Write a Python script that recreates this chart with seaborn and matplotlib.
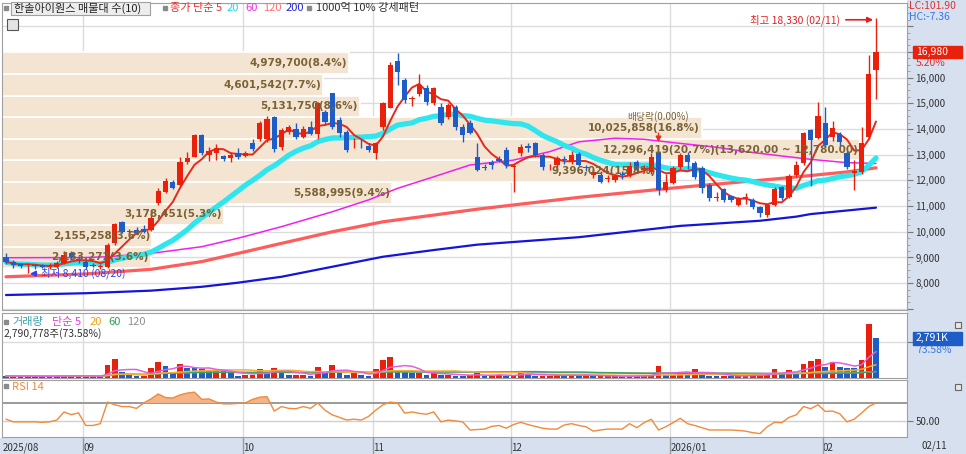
import numpy as np
import pandas as pd
import matplotlib
matplotlib.use("Agg")
import matplotlib.pyplot as plt
import matplotlib.transforms as mtransforms
from matplotlib.patches import Rectangle
from matplotlib.ticker import MultipleLocator, FuncFormatter
import seaborn as sns

# ---- daily candles, 2025/08/14 .. 2026/02/11 (won) ----
opens = [9020, 8840, 8750, 8700, 8720, 8700, 8640, 8640, 8790, 9170, 8960,
         8830, 8700, 8620, 8630, 9560, 10380, 10010, 10070, 10100, 10070, 11120,
         11550, 11940, 11820, 12720, 12910, 13770, 12990, 13060, 12950, 12870, 13070,
         12950, 13460, 13610, 13610, 14470, 13300, 13880, 14000, 13690, 14080, 13810,
         14660, 15400, 14350, 13880, 13440, 13470, 13330,
         13070, 14080, 14820, 16650, 15910, 15180, 15360, 15590, 15010, 14860, 14470,
         14860, 14080, 14230, 12910, 12540, 12700, 12850, 13180,
         12540, 13070, 13330, 13460, 12990, 12510, 12600, 12840, 12720, 13030, 12520,
         12200, 12210, 12060, 12020, 12250, 12210, 12720, 12400, 12330, 13070, 11630,
         11900, 12520, 12990, 12680, 12480, 11820, 11330, 11670, 11400, 11040, 11320,
         11240, 10970, 10650, 11040, 11740, 11350, 12210, 12680, 13960, 13650,
         14230, 13690, 13810, 13070, 12300, 12330, 13690, 16300]
highs = [9180, 8900, 8800, 8780, 8760, 8760, 8800, 8850, 9250, 9250, 9050,
         8900, 8800, 8740, 9550, 10350, 10420, 10100, 10200, 10250, 10800, 11700,
         12100, 12000, 12900, 13100, 13800, 13800, 13300, 13400, 13000, 13100, 13250,
         13150, 13600, 14300, 14500, 14500, 14050, 14150, 14250, 14100, 14300, 15050,
         14750, 15400, 14450, 13950, 13650, 13600, 13450,
         13500, 15050, 16600, 16960, 16000, 15300, 16150, 15700, 15650, 15000, 15000,
         14950, 14200, 14350, 13450, 12650, 12800, 12950, 13300,
         12650, 13400, 13450, 13500, 13050, 12650, 12950, 12950, 13150, 13100, 12600,
         12450, 12350, 12200, 12250, 12350, 12700, 12800, 12600, 13050, 13100, 12250,
         12550, 13050, 13100, 12750, 12550, 11900, 11550, 11700, 11450, 11350, 11500,
         11300, 11000, 11100, 11750, 11800, 12250, 12750, 13900, 14000, 15050,
         14850, 14300, 13900, 13150, 12800, 14080, 16880, 18330]
lows = [8760, 8600, 8600, 8410, 8560, 8580, 8560, 8600, 8760, 8900, 8780,
        8560, 8620, 8560, 8600, 9500, 9950, 9950, 9900, 9950, 10050, 11050,
        11500, 11650, 11800, 12650, 12900, 13000, 12750, 12800, 12750, 12700, 12850,
        12900, 13150, 13550, 13500, 13100, 13200, 13800, 13600, 13650, 13750, 13600,
        14200, 14000, 13700, 13100, 13250, 13250, 13100,
        12850, 13950, 14800, 15700, 15000, 14900, 15300, 14950, 14950, 14150, 14400,
        13950, 13500, 13800, 12350, 12400, 12450, 12700, 12500,
        11550, 12950, 13100, 12900, 12400, 12400, 12500, 12650, 12650, 12550, 12350,
        12100, 11900, 11950, 11950, 12050, 12150, 12300, 12300, 12250, 11450, 11550,
        11850, 12450, 12450, 12050, 11500, 11200, 11200, 11150, 11150, 11000, 11100,
        10900, 10580, 10580, 11000, 11250, 11300, 12150, 12600, 11800, 13600,
        13300, 13550, 13350, 12450, 11630, 12250, 13600, 15150]
closes = [8830, 8700, 8680, 8730, 8660, 8640, 8670, 8790, 9100, 9020, 8900,
          8640, 8650, 8680, 9490, 10300, 9990, 10040, 9960, 9990, 10540, 11590,
          11980, 11700, 12720, 12870, 13770, 13060, 13150, 13260, 12830, 12990, 12910,
          13070, 13220, 14230, 14390, 13220, 13960, 14080, 13690, 14000, 13810, 15010,
          14270, 14080, 13840, 13180, 13470, 13440, 13180,
          13460, 15010, 16490, 16220, 15130, 15220, 15710, 15050, 15590, 14230, 14930,
          14080, 13770, 13850, 12410, 12500, 12600, 12750, 12600,
          12570, 13300, 13260, 12990, 12520, 12540, 12870, 12800, 13000, 12600, 12480,
          12330, 11940, 12090, 12170, 12200, 12560, 12410, 12500, 12910, 11630, 11940,
          12480, 12990, 12720, 12130, 11710, 11320, 11360, 11240, 11240, 11270, 11350,
          10970, 10730, 11040, 11670, 11320, 12170, 12600, 13850, 13570, 14510,
          13380, 14040, 13500, 12520, 12360, 13460, 16140, 16980]
# volume in thousands of shares
volume_k = [150, 130, 110, 140, 120, 110, 100, 140, 200, 150, 130,
            110, 100, 120, 895, 1330, 410, 240, 120, 120, 700, 1160,
            850, 410, 970, 725, 700, 650, 480, 480, 480, 360, 120,
            240, 240, 650, 360, 725, 360, 240, 240, 240, 170, 800,
            410, 895, 410, 240, 360, 240, 170,
            600, 1260, 1500, 530, 480, 360, 360, 240, 360, 240, 240,
            170, 120, 240, 360, 120, 120, 240, 170,
            240, 360, 240, 170, 170, 170, 240, 170, 240, 170, 240,
            120, 120, 120, 120, 120, 120, 170, 170, 240, 850, 240,
            240, 410, 360, 600, 360, 170, 120, 170, 120, 170, 170,
            240, 240, 240, 600, 360, 560, 360, 970, 1210, 1330,
            800, 1160, 800, 725, 700, 1260, 3793, 2791]
last_volume = 2790778
rsi14 = [52, 49, 49, 49, 49, 48.5, 49, 51, 60, 57, 59,
         45, 45, 47, 71, 68, 66, 66, 64, 70, 74.5, 80,
         76, 75.5, 79, 81, 82, 74, 74.5, 71, 69, 69, 69.5,
         70, 74, 76.4, 77, 61, 66, 64, 63.6, 66, 64, 70,
         62, 56.8, 54, 51, 52, 51, 55,
         62, 68, 71, 70, 58.7, 60, 58.5, 57.5, 60, 49, 51,
         50, 49, 40, 40.5, 41, 44, 45, 42,
         46, 48.5, 46, 44, 42, 41, 41, 45.5, 47, 45, 43.6,
         38.7, 40, 41, 41, 41, 47, 42.5, 48, 52, 40, 43.6,
         48, 53, 47, 45, 42.5, 40, 40, 40, 40, 39.5, 38.7,
         37, 36, 43.6, 48.5, 48, 54, 56.8, 66, 63.6, 68,
         60.6, 61, 58, 49, 52, 58.7, 66, 70]

# long moving averages (their history starts before the window), read at candle indices
ma60_at = [0, 11, 14, 20, 27, 32, 38, 45, 50, 54, 59, 64, 70, 75, 79, 84, 88, 93,
           98, 102, 107, 111, 116, 120]
ma60_val = [8990, 9000, 9030, 9160, 9420, 9750, 10200, 10780, 11240, 11690, 12140,
            12600, 12790, 13120, 13500, 13640, 13600, 13440, 13290, 13120, 12950,
            12820, 12690, 12660]
ma120_at = [0, 11, 20, 27, 32, 38, 45, 52, 59, 65, 79, 93, 107, 116, 120]
ma120_val = [8250, 8360, 8540, 8840, 9160, 9550, 10000, 10390, 10650, 10880, 11340,
             11730, 12080, 12330, 12490]
ma200_at = [0, 11, 20, 27, 32, 38, 45, 52, 59, 65, 79, 93, 104, 109, 111, 120]
ma200_val = [7540, 7610, 7710, 7860, 8020, 8250, 8640, 9030, 9290, 9500, 9790, 10230,
             10430, 10590, 10690, 10940]

# volume profile (매물대) bands, bottom to top
band_low = [8580, 9420, 10260, 11100, 11940, 12780, 13620, 14460, 15300, 16140]
band_high = [9420, 10260, 11100, 11940, 12780, 13620, 14460, 15300, 16140, 16980]
band_vol = [2133272, 2155258, 3178451, 5588995, 9396024, 12296419, 10025858,
            5131750, 4601542, 4979700]
band_pct = [3.6, 3.6, 5.3, 9.4, 15.8, 20.7, 16.8, 8.6, 7.7, 8.4]

month_idx = [11, 33, 51, 70, 92, 113]
month_lab = ["09", "10", "11", "12", "2026/01", "02"]

RED = "#E8200C"
BLUE = "#1E5CC8"
BEIGE = "#F4E5D2"
BROWN = "#7A6234"
STRIP = "#D6E0EE"
GRID = "#DCDCDC"

W, H = 966, 454


def fx(x):
    return x / W


def fy(y):
    return 1 - y / H


sns.set_style("white")
plt.rcParams["font.family"] = ["Noto Sans CJK KR", "DejaVu Sans"]
plt.rcParams["axes.unicode_minus"] = False

fig = plt.figure(figsize=(9.66, 4.54), dpi=100)
fig.patches.append(Rectangle((fx(907), 0), 1 - fx(907), 1, transform=fig.transFigure,
                             color=STRIP, zorder=-10))
fig.patches.append(Rectangle((0, 0), 1, 16 / H, transform=fig.transFigure,
                             color=STRIP, zorder=-10))

ax_p = fig.add_axes([fx(2), fy(310), fx(905), 307 / H])
ax_v = fig.add_axes([fx(2), fy(378), fx(905), 65 / H])
ax_r = fig.add_axes([fx(2), fy(437), fx(905), 57 / H])

X0, X1 = (2 - 6) / 7.25, (907 - 6) / 7.25
n = len(closes)
idx = np.arange(n)
df = pd.DataFrame({"o": opens, "h": highs, "l": lows, "c": closes, "v": volume_k, "rsi": rsi14})
df["ma5"] = df["c"].rolling(5, min_periods=1).mean()
df["ma20"] = df["c"].rolling(20, min_periods=1).mean()

for ax in (ax_p, ax_v, ax_r):
    ax.set_xlim(X0, X1)
    for m in month_idx:
        ax.axvline(m - 0.35, color=GRID, lw=1, zorder=0)
    for s in ax.spines.values():
        s.set_color("#A0A0A0")

# ---- price panel ----
ax_p.set_yticks(range(7000, 19000, 1000))
ax_p.yaxis.set_major_formatter(FuncFormatter(lambda v, p: f"{int(v):,}" if 8000 <= v <= 16000 else ""))
ax_p.yaxis.set_minor_locator(MultipleLocator(250))
ax_p.yaxis.tick_right()
ax_p.tick_params(axis="y", which="major", length=4, color="#777777", labelsize=7,
                 labelcolor="#333333", pad=2)
ax_p.tick_params(axis="y", which="minor", length=2, color="#999999")
ax_p.grid(axis="y", color=GRID, lw=1, zorder=0)

scale = (860 - 2) / 7.25 / max(band_vol)
mids = [(a + b) / 2 for a, b in zip(band_low, band_high)]
lengths = [v * scale for v in band_vol]
ax_p.barh(mids, lengths, height=840, left=X0, color=BEIGE, edgecolor="white",
          linewidth=1.2, zorder=1)
big = int(np.argmax(band_vol))
for k, (m, L, v, p) in enumerate(zip(mids, lengths, band_vol, band_pct)):
    lab = f"{v:,}({p}%)"
    if k == big:
        lab += f"({band_high[k]:,.2f} ~ {band_low[k]:,.2f})"
    ax_p.text(X0 + L - 0.3, m, lab, ha="right", va="center", fontsize=7.5,
              color=BROWN, fontweight="bold", family="DejaVu Sans", zorder=8)

sns.lineplot(x=ma200_at, y=ma200_val, ax=ax_p, color="#1414DC", linewidth=1.6, zorder=2)
sns.lineplot(x=ma120_at, y=ma120_val, ax=ax_p, color="#FF5C5C", linewidth=2.3, zorder=2)
sns.lineplot(x=ma60_at, y=ma60_val, ax=ax_p, color="#F020F0", linewidth=1.1, zorder=2)
sns.lineplot(x=idx, y=df["ma20"], ax=ax_p, color="#30E6EE", linewidth=3.8, zorder=3)
sns.lineplot(x=idx, y=df["ma5"], ax=ax_p, color="#E8281C", linewidth=1.4, zorder=4)

up = df["c"] >= df["o"]
ccol = np.where(up, RED, BLUE)
ax_p.vlines(idx, df["l"], df["h"], colors=ccol, lw=1, zorder=5)
ax_p.bar(idx, (df["c"] - df["o"]).abs().clip(lower=30), bottom=df[["o", "c"]].min(axis=1),
         width=0.7, color=ccol, linewidth=0, zorder=6)
ax_p.set_xlim(X0, X1)
ax_p.set_ylim(6957, 18903)
ax_p.set_xticks([])
ax_p.set_xlabel("")
ax_p.set_ylabel("")

ihi = int(np.argmax(highs))
ilo = int(np.argmin(lows))
ax_p.annotate(f"최고 {highs[ihi]:,} (02/11)", xy=(ihi - 0.4, highs[ihi] - 80),
              xytext=(-24, 0), textcoords="offset points", ha="right", va="center",
              fontsize=7.5, color="#E02020",
              arrowprops=dict(arrowstyle="-|>", color="#E02020", lw=1.2,
                              shrinkA=2, shrinkB=0, mutation_scale=8), zorder=9)
ax_p.annotate(f"최저 {lows[ilo]:,} (08/20)", xy=(ilo + 0.3, lows[ilo] - 40),
              xytext=(8, 0), textcoords="offset points", ha="left", va="center",
              fontsize=7.5, color="#3040F0",
              arrowprops=dict(arrowstyle="-|>", color="#3040F0", lw=1.2,
                              shrinkA=1, shrinkB=0, mutation_scale=8), zorder=9)
ax_p.text(90, 14480, "배당락(0.00%)", ha="center", va="center", fontsize=7,
          color=BROWN, zorder=8)
ax_p.annotate("", xy=(90, 13380), xytext=(90, 13950),
              arrowprops=dict(arrowstyle="-|>", color="#E03020", lw=1, mutation_scale=8),
              zorder=9)

# ---- volume panel ----
vcol = [BLUE] + [RED if df["v"][i] >= df["v"][i - 1] else BLUE for i in range(1, n)]
ax_v.bar(idx, df["v"], width=0.78, color=vcol, linewidth=0, zorder=3)
for w, c in [(120, "#A8A8A8"), (60, "#3FA060"), (20, "#F0B030"), (5, "#E060E0")]:
    sns.lineplot(x=idx, y=df["v"].rolling(w, min_periods=1).mean(), ax=ax_v,
                 color=c, linewidth=1.1, zorder=4)
ax_v.set_xlim(X0, X1)
ax_v.set_ylim(0, 4570)
ax_v.set_yticks([2500])
ax_v.yaxis.tick_right()
ax_v.tick_params(axis="y", length=4, color="#777777", labelright=False)
ax_v.grid(axis="y", color=GRID, lw=1, zorder=0)
ax_v.set_xticks([])
ax_v.set_xlabel("")
ax_v.set_ylabel("")

# ---- RSI panel ----
ax_r.axhline(70, color="#9A9A9A", lw=1.4, zorder=1)
ax_r.axhline(50, color="#D0D0D0", lw=1, zorder=1)
ax_r.fill_between(idx, 70, df["rsi"], where=df["rsi"] > 70, interpolate=True,
                  color="#F4B488", lw=0, zorder=2)
sns.lineplot(x=idx, y=df["rsi"], ax=ax_r, color="#F08A3C", linewidth=1.0, zorder=3)
ax_r.set_xlim(X0, X1)
ax_r.set_ylim(32.2, 95.5)
ax_r.set_yticks([50])
ax_r.yaxis.tick_right()
ax_r.yaxis.set_major_formatter(FuncFormatter(lambda v, p: f"{v:.2f}"))
ax_r.tick_params(axis="y", length=4, color="#777777", labelsize=7, labelcolor="#333333", pad=2)
ax_r.set_xticks([X0 + 0.05] + [m - 0.35 for m in month_idx])
ax_r.set_xticklabels(["2025/08"] + month_lab, ha="left", fontsize=7, color="#333333")
ax_r.tick_params(axis="x", length=0, pad=4)
trans = mtransforms.blended_transform_factory(ax_r.transData, ax_r.transAxes)
ax_r.vlines([m - 0.35 for m in month_idx], -0.29, 0, transform=trans, color="#9A9A9A",
            lw=1, clip_on=False)
ax_r.set_xlabel("")
ax_r.set_ylabel("")


# ---- header texts ----
def square(x, y, s=4):
    fig.patches.append(Rectangle((fx(x), fy(y + s)), s / W, s / H, transform=fig.transFigure,
                                 color="#8A8A8A", zorder=10))


vol_pct = volume_k[-1] / volume_k[-2] * 100

square(4, 6)
fig.patches.append(Rectangle((fx(11), fy(15)), 139 / W, 13 / H, transform=fig.transFigure,
                             facecolor="#EDEDED", edgecolor="#A0A0A0", lw=0.8, zorder=9))
fig.text(fx(14), fy(8), "한솔아이원스 매물대 수(10)", fontsize=8, color="#222222", va="center", zorder=11)
square(163, 6)
for x, t, c in [(170, "종가 단순 5", "#E83030"), (227, "20", "#22D8E8"), (245, "60", "#F030F0"),
                (263, "120", "#FF7070"), (286, "200", "#2424E0")]:
    fig.text(fx(x), fy(8), t, fontsize=8, color=c, va="center")
square(307, 6)
fig.text(fx(316), fy(8), "1000억 10% 강세패턴", fontsize=8, color="#333333", va="center")
# small table icon under the header
fig.patches.append(Rectangle((fx(7), fy(30)), 11 / W, 11 / H, transform=fig.transFigure,
                             facecolor="#E4E4E4", edgecolor="#555555", lw=0.8, zorder=9))

square(4, 320)
for x, t, c in [(12, "거래량", "#3FA0A8"), (52, "단순 5", "#E040D0"), (90, "20", "#F0A010"),
                (108, "60", "#30A050"), (127, "120", "#909090")]:
    fig.text(fx(x), fy(322), t, fontsize=8, color=c, va="center")
fig.text(fx(4), fy(334), f"{last_volume:,}주({vol_pct:.2f}%)",
         fontsize=7.5, color="#333333", va="center")
square(4, 384)
fig.text(fx(12), fy(387), "RSI 14", fontsize=8, color="#F08A3C", va="center")

# ---- right strip labels ----
fig.text(fx(909), fy(6), "LC:101.90", fontsize=7.5, color="#E03030", va="center")
fig.text(fx(909), fy(17), "HC:-7.36", fontsize=7.5, color="#3A78E0", va="center")
fig.patches.append(Rectangle((fx(913), fy(58)), 49 / W, 12 / H, transform=fig.transFigure,
                             color=RED, zorder=9))
fig.text(fx(916), fy(52), f"{closes[-1]:,}", fontsize=7.5, color="white", va="center", zorder=10)
fig.text(fx(916), fy(63), f"{(closes[-1] / closes[-2] - 1) * 100:.2f}%", fontsize=7.5,
         color="#E03030", va="center")
fig.patches.append(Rectangle((fx(913), fy(345)), 49 / W, 13 / H, transform=fig.transFigure,
                             color=BLUE, zorder=9))
fig.text(fx(916), fy(338), f"{volume_k[-1]:,}K", fontsize=7.5, color="white", va="center", zorder=10)
fig.text(fx(916), fy(350), f"{vol_pct:.2f}%", fontsize=7.5, color="#3A78E0", va="center")
for y in (322, 384):
    fig.patches.append(Rectangle((fx(955), fy(y + 6)), 6 / W, 6 / H, transform=fig.transFigure,
                                 facecolor="#E8E8E8", edgecolor="#666666", lw=0.8, zorder=9))
fig.text(fx(921), fy(446), "02/11", fontsize=7, color="#333333", va="center")

fig.savefig("out.png", dpi=100)
